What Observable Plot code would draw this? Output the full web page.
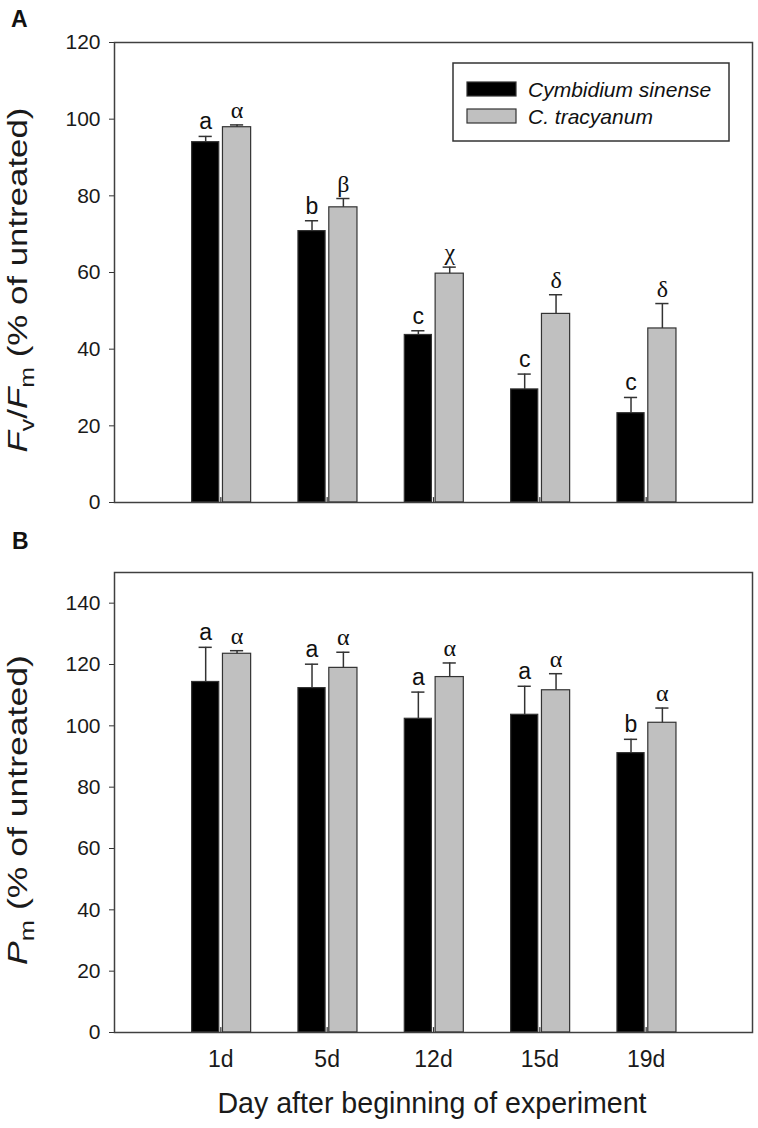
<!DOCTYPE html>
<html>
<head>
<meta charset="utf-8">
<script src="https://cdn.jsdelivr.net/npm/d3@7"></script>
<script src="https://cdn.jsdelivr.net/npm/@observablehq/plot@0.6"></script>
<style>
  html, body { margin: 0; padding: 0; background: #fff; }
  #chart svg { display: block; }
</style>
</head>
<body>
<div id="chart"></div>
<script>
// ---- data ----
const days = ["1d", "5d", "12d", "15d", "19d"];
const species = ["Cymbidium sinense", "C. tracyanum"];
const speciesColors = ["#000000", "#c0c0c0"];

// Panel A: Fv/Fm (% of untreated)
const fvfmSinense = [94.0, 70.8, 43.7, 29.5, 23.3];
const fvfmSinenseErr = [1.5, 2.7, 1.1, 4.0, 4.1];
const fvfmSinenseLetters = ["a", "b", "c", "c", "c"];
const fvfmTracyanum = [97.9, 77.0, 59.7, 49.2, 45.4];
const fvfmTracyanumErr = [0.6, 2.3, 1.7, 5.0, 6.5];
const fvfmTracyanumLetters = ["α", "β", "χ", "δ", "δ"];

// Panel B: Pm (% of untreated)
const pmSinense = [114.3, 112.3, 102.3, 103.6, 91.1];
const pmSinenseErr = [11.3, 7.8, 8.7, 9.3, 4.5];
const pmSinenseLetters = ["a", "a", "a", "a", "b"];
const pmTracyanum = [123.5, 118.9, 115.9, 111.6, 101.0];
const pmTracyanumErr = [1.0, 5.1, 4.6, 5.4, 4.8];
const pmTracyanumLetters = ["α", "α", "α", "α", "α"];

const yTicksA = [0, 20, 40, 60, 80, 100, 120];
const yTicksB = [0, 20, 40, 60, 80, 100, 120, 140];

// ---- layout helpers (band offsets within each day group) ----
const offsets = [[-0.27, -0.015], [0.02, 0.285]];
const capHalf = 0.062;
const dayIdx = days.map((d, i) => i + 1);

function rows(vals0, err0, let0, vals1, err1, let1) {
  const out = [];
  days.forEach((d, i) => {
    [[vals0, err0, let0], [vals1, err1, let1]].forEach(([v, e, l], s) => {
      const x1 = i + 1 + offsets[s][0], x2 = i + 1 + offsets[s][1];
      out.push({day: d, s, species: species[s], value: v[i], err: e[i], top: v[i] + e[i],
                letter: l[i], x1, x2, xc: (x1 + x2) / 2});
    });
  });
  return out;
}

const dataA = rows(fvfmSinense, fvfmSinenseErr, fvfmSinenseLetters, fvfmTracyanum, fvfmTracyanumErr, fvfmTracyanumLetters);
const dataB = rows(pmSinense, pmSinenseErr, pmSinenseLetters, pmTracyanum, pmTracyanumErr, pmTracyanumLetters);

const sansFont = "'Liberation Sans', Arial, Helvetica, sans-serif";
const serifFont = "'Liberation Serif', 'Times New Roman', serif";
const inkColor = "#333";

const tickShape = {draw(ctx, l) { ctx.moveTo(0, 0); ctx.lineTo(0, -l); }};

function panel(data, yDomain, yTicks, height, marginTop, marginBottom, showX) {
  const marks = [
    Plot.rectY(data, {x1: "x1", x2: "x2", y1: 0, y2: "value", fill: "species", stroke: inkColor, strokeWidth: 1.2}),
    Plot.ruleX(data, {x: "xc", y1: "value", y2: "top", stroke: inkColor, strokeWidth: 1.5}),
    Plot.ruleY(data, {y: "top", x1: d => d.xc - capHalf, x2: d => d.xc + capHalf, stroke: inkColor, strokeWidth: 1.5}),
    Plot.text(data.filter(d => d.s === 0), {x: "xc", y: "top", text: "letter", dy: -7, lineAnchor: "bottom",
      fontSize: 23, fontFamily: sansFont, fill: "#111"}),
    Plot.text(data.filter(d => d.s === 1), {x: "xc", y: "top", text: "letter", dy: -7, lineAnchor: "bottom",
      fontSize: 24, fontFamily: serifFont, fill: "#111"}),
    Plot.vector(dayIdx, {x: d => d, y: 0, length: 5, rotate: 0, anchor: "start", shape: tickShape, stroke: inkColor, strokeWidth: 1.2}),
    Plot.axisY({ticks: yTicks, tickSize: 5, tickPadding: 9, fontSize: 21, label: null, stroke: inkColor}),
    Plot.frame({stroke: "#404040", strokeWidth: 1.5})
  ];
  if (showX) {
    marks.push(Plot.axisX({ticks: dayIdx, tickFormat: d => days[d - 1], tickSize: 0, tickPadding: 18, fontSize: 23, label: null}));
  }
  return Plot.plot({
    width: 758,
    height,
    marginTop,
    marginBottom,
    marginLeft: 114,
    marginRight: 6,
    style: {fontFamily: sansFont, color: "#1a1a1a", background: "#fff"},
    x: {domain: [0, 6], axis: null},
    y: {domain: yDomain, axis: null},
    color: {domain: species, range: speciesColors},
    marks
  });
}

// panel A: frame y 42..502 ; panel B: frame y 572..1032 (page coordinates)
const svgA = panel(dataA, [0, 120], yTicksA, 515, 42, 13, false);
const svgB = panel(dataB, [0, 150], yTicksB, 613, 57, 96, true);
const chart = document.getElementById("chart");
chart.appendChild(svgA);
chart.appendChild(svgB);

// ---- annotations ----
function yTitle(svg, parts, cy, targetLen) {
  const t = d3.select(svg).append("text")
    .attr("text-anchor", "middle")
    .attr("font-family", sansFont)
    .attr("font-size", 28)
    .attr("fill", "#1a1a1a");
  parts.forEach(p => {
    const ts = t.append("tspan").text(p.t);
    if (p.i) ts.attr("font-style", "italic");
    if (p.sub) ts.attr("font-size", 20).attr("dy", 7);
    if (p.up) ts.attr("dy", -7);
  });
  const len = t.node().getComputedTextLength();
  const sx = targetLen / len;
  t.attr("transform", `translate(27,${cy}) rotate(-90) scale(${sx},1)`);
}

yTitle(svgA, [{t: "F", i: true}, {t: "v", sub: true}, {t: "/", up: true}, {t: "F", i: true}, {t: "m", sub: true}, {t: " (% of untreated)", up: true}], 280, 345);
yTitle(svgB, [{t: "P", i: true}, {t: "m", sub: true}, {t: " (% of untreated)", up: true}], 295, 310);

function panelLetter(svg, txt, x, y) {
  d3.select(svg).append("text").attr("x", x).attr("y", y)
    .attr("text-anchor", "start")
    .attr("font-family", sansFont).attr("font-weight", "bold").attr("font-size", 23)
    .attr("fill", "#111").text(txt);
}
panelLetter(svgA, "A", 11, 27);
panelLetter(svgB, "B", 12, 34);

// x axis title
d3.select(svgB).append("text")
  .attr("x", 432).attr("y", 598)
  .attr("text-anchor", "middle")
  .attr("font-family", sansFont).attr("font-size", 28.6)
  .attr("fill", "#1a1a1a")
  .text("Day after beginning of experiment");

// legend (panel A)
const lg = d3.select(svgA).append("g");
lg.append("rect").attr("x", 453).attr("y", 63).attr("width", 276).attr("height", 78)
  .attr("fill", "#fff").attr("stroke", inkColor).attr("stroke-width", 1.5);
species.forEach((s, i) => {
  const y = 82 + i * 27;
  lg.append("rect").attr("x", 467).attr("y", y).attr("width", 49).attr("height", 14)
    .attr("fill", speciesColors[i]).attr("stroke", inkColor).attr("stroke-width", 1.2);
  lg.append("text").attr("x", 528).attr("y", y + 14.5)
    .attr("text-anchor", "start")
    .attr("font-family", sansFont).attr("font-style", "italic").attr("font-size", 21)
    .attr("fill", "#111").text(s);
});
</script>
</body>
</html>
